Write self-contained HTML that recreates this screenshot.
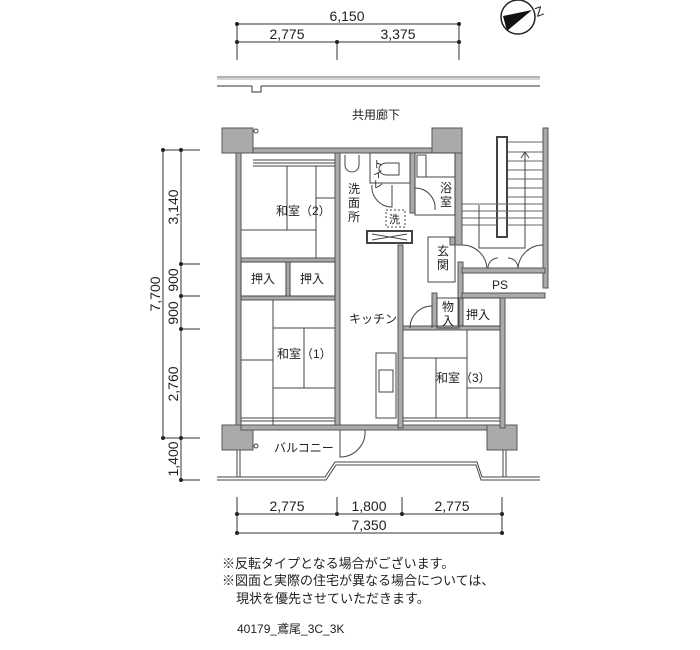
<!DOCTYPE html>
<html><head><meta charset="utf-8"><style>
html,body{margin:0;padding:0;background:#fff;}
svg{display:block;}
text{font-family:"Liberation Sans","Noto Sans CJK JP",sans-serif;fill:#222;}
</style></head><body>
<svg width="700" height="650" viewBox="0 0 700 650" xmlns="http://www.w3.org/2000/svg">
<g stroke="#333" stroke-width="1" fill="none">
<line x1="237" y1="24" x2="459" y2="24"/><line x1="237" y1="42" x2="459" y2="42"/>
<line x1="237" y1="24" x2="237" y2="60"/><line x1="337" y1="42" x2="337" y2="60"/><line x1="459" y1="24" x2="459" y2="60"/>
<line x1="217" y1="77" x2="540" y2="77" stroke="#666"/><line x1="217" y1="79" x2="540" y2="79" stroke="#aaa"/>
<line x1="217" y1="86" x2="252" y2="86"/><line x1="261" y1="86" x2="540" y2="86"/>
<path d="M252 86 V92 H261 V86"/>
<line x1="163" y1="150" x2="163" y2="438"/><line x1="181" y1="150" x2="181" y2="480"/>
<line x1="163" y1="150" x2="200" y2="150"/><line x1="181" y1="264" x2="200" y2="264"/><line x1="181" y1="296" x2="200" y2="296"/><line x1="181" y1="329" x2="200" y2="329"/><line x1="163" y1="438" x2="200" y2="438"/><line x1="181" y1="480" x2="200" y2="480"/>
<line x1="237" y1="514" x2="502" y2="514"/><line x1="237" y1="533" x2="502" y2="533"/>
<line x1="237" y1="497" x2="237" y2="533"/><line x1="337" y1="497" x2="337" y2="514"/><line x1="402" y1="497" x2="402" y2="514"/><line x1="502" y1="497" x2="502" y2="533"/>
</g>
<g fill="#222">
<circle cx="237" cy="24" r="2"/><circle cx="459" cy="24" r="2"/><circle cx="237" cy="42" r="2"/><circle cx="337" cy="42" r="2"/><circle cx="459" cy="42" r="2"/>
<circle cx="163" cy="150" r="2"/><circle cx="181" cy="150" r="2"/><circle cx="181" cy="264" r="2"/><circle cx="181" cy="296" r="2"/><circle cx="181" cy="329" r="2"/><circle cx="163" cy="438" r="2"/><circle cx="181" cy="438" r="2"/><circle cx="181" cy="480" r="2"/>
<circle cx="237" cy="514" r="2"/><circle cx="337" cy="514" r="2"/><circle cx="402" cy="514" r="2"/><circle cx="502" cy="514" r="2"/><circle cx="237" cy="533" r="2"/><circle cx="502" cy="533" r="2"/>
</g>
<g font-size="14" text-anchor="middle">
<text x="347" y="21">6,150</text><text x="287" y="39">2,775</text><text x="398" y="39">3,375</text>
<text x="287" y="511">2,775</text><text x="369" y="511">1,800</text><text x="452" y="511">2,775</text><text x="369" y="530">7,350</text>
<text transform="translate(178,207) rotate(-90)">3,140</text>
<text transform="translate(178,280) rotate(-90)">900</text>
<text transform="translate(178,313) rotate(-90)">900</text>
<text transform="translate(178,384) rotate(-90)">2,760</text>
<text transform="translate(178,459) rotate(-90)">1,400</text>
<text transform="translate(160,294) rotate(-90)">7,700</text>
</g>
<circle cx="518" cy="17" r="17" fill="#fff" stroke="#222" stroke-width="1.5"/>
<path d="M532 10 L503 16 L507 31 Z" fill="#111"/>
<text transform="translate(537,17) rotate(-20)" font-size="13">Z</text>
<g fill="#aaa" stroke="#555" stroke-width="1">
<rect x="222" y="128" width="31" height="25"/>
<rect x="236" y="153" width="5" height="277"/>
<rect x="253" y="148" width="179" height="5"/>
<rect x="432" y="128" width="30" height="25"/>
<path d="M455 153 H462 V245 H450 V237 H455 Z"/>
<rect x="335" y="153" width="5" height="277"/>
<rect x="222" y="425" width="31" height="25"/>
<rect x="487" y="425" width="30" height="25"/>
<rect x="241" y="425" width="246" height="5"/>
<rect x="543" y="128" width="5" height="160"/>
<rect x="500" y="293" width="5" height="135"/>
<rect x="458" y="262" width="5" height="68"/>
<rect x="398" y="245" width="5" height="183"/>
<rect x="410" y="153" width="5" height="60"/>
<rect x="462" y="268" width="83" height="5"/>
<rect x="462" y="293" width="83" height="5"/>
<rect x="432" y="293" width="5" height="35"/>
<rect x="403" y="326" width="97" height="4"/>
<rect x="241" y="258" width="94" height="4"/>
<rect x="241" y="296" width="94" height="4"/>
<rect x="286" y="262" width="4" height="34"/>
</g>
<g stroke="#444" stroke-width="1" fill="none">
<line x1="253" y1="160" x2="335" y2="160"/><line x1="253" y1="163" x2="335" y2="163"/><line x1="253" y1="166" x2="335" y2="166"/>
<line x1="287" y1="166" x2="287" y2="230"/><line x1="316" y1="166" x2="316" y2="258"/><line x1="241" y1="230" x2="316" y2="230"/><line x1="316" y1="198" x2="335" y2="198"/>
<rect x="241" y="262" width="45" height="34"/><rect x="290" y="262" width="45" height="34"/>
<line x1="273" y1="300" x2="273" y2="425"/><line x1="273" y1="328" x2="335" y2="328"/><line x1="273" y1="388" x2="335" y2="388"/><line x1="304" y1="328" x2="304" y2="388"/><line x1="241" y1="360" x2="273" y2="360"/>
<line x1="241" y1="418" x2="335" y2="418"/><line x1="241" y1="421" x2="335" y2="421"/>
<line x1="403" y1="358" x2="467" y2="358"/><line x1="467" y1="330" x2="467" y2="418"/><line x1="436" y1="358" x2="436" y2="418"/><line x1="467" y1="388" x2="500" y2="388"/>
<line x1="403" y1="418" x2="500" y2="418"/><line x1="403" y1="421" x2="500" y2="421"/>
<rect x="370" y="153" width="40" height="30"/>
<rect x="415" y="153" width="40" height="62"/><rect x="417" y="155" width="9" height="22"/><line x1="426" y1="177" x2="455" y2="177"/>
<path d="M387 163 a8 6 0 1 0 0 12 h12 v-12 z"/>
<path d="M345 155 v10 a7 7 0 0 0 14 0 v-10"/>
<path d="M372 185 a20 20 0 0 0 20 22 v-22"/>
<path d="M415 188 a20 20 0 0 1 20 22"/>
<rect x="386" y="210" width="19" height="17" stroke-dasharray="2,2"/>
<rect x="367" y="231" width="45" height="12" stroke-width="2"/><path d="M372 234 L407 240 M372 240 L407 234"/>
<rect x="376" y="353" width="20" height="65"/><rect x="379" y="370" width="14" height="22"/>
<rect x="428" y="237" width="27" height="45"/>
<rect x="437" y="298" width="22" height="30"/><rect x="459" y="298" width="41" height="28"/>
<path d="M410 328 a22 22 0 0 1 22 -22 v22"/>
<rect x="497" y="137" width="10" height="100" stroke-width="2"/>
<g stroke="#666">
<line x1="508" y1="142" x2="543" y2="142"/><line x1="508" y1="152" x2="543" y2="152"/><line x1="508" y1="161" x2="543" y2="161"/><line x1="508" y1="170" x2="543" y2="170"/><line x1="508" y1="179" x2="543" y2="179"/><line x1="508" y1="188" x2="543" y2="188"/><line x1="508" y1="197" x2="543" y2="197"/>
<line x1="462" y1="204" x2="543" y2="204"/><line x1="462" y1="211" x2="543" y2="211"/><line x1="462" y1="218" x2="543" y2="218"/><line x1="462" y1="225" x2="497" y2="225"/><line x1="507" y1="225" x2="543" y2="225"/>
</g>
<path d="M479 205 V248 H525 V152 M521 158 L525 152 L529 158"/>
<path d="M462 245 a25 25 0 0 1 25 23 M543 245 a25 25 0 0 0 -25 23 M488 268 a10 10 0 0 1 10 -10 M518 268 a10 10 0 0 0 -10 -10"/>
<path d="M217 477 H325 L335 462 H477 L482 477 H540"/>
<path d="M217 480 H326 L336 465 H476 L481 480 H540"/>
<line x1="237" y1="450" x2="237" y2="477"/><line x1="240" y1="450" x2="240" y2="477"/><line x1="503" y1="450" x2="503" y2="477"/><line x1="506" y1="450" x2="506" y2="477"/>
<path d="M340 430 v27 a25 25 0 0 0 25 -27"/>
<circle cx="256" cy="131" r="2"/><circle cx="256" cy="446" r="2"/>
</g>
<g font-size="12">
<text x="352" y="119">共用廊下</text>
<text x="276" y="215">和室（2）</text>
<text x="251" y="283">押入</text><text x="300" y="283">押入</text>
<text x="277" y="358">和室（1）</text>
<text x="349" y="323">キッチン</text>
<text x="436" y="382">和室（3）</text>
<text x="274" y="452">バルコニー</text>
<text x="492" y="289">PS</text>
<text x="466" y="319">押入</text>
<text x="389" y="223" font-size="11">洗</text>
</g>
<g font-size="12" text-anchor="middle">
<text x="354" y="193">洗</text><text x="354" y="207">面</text><text x="354" y="221">所</text>
<text x="446" y="192">浴</text><text x="446" y="206">室</text>
<text x="443" y="255">玄</text><text x="443" y="269">関</text>
<text x="448" y="311">物</text><text x="448" y="325">入</text>
<text x="378" y="168" font-size="10">ト</text><text x="378" y="178" font-size="10">イ</text><text x="378" y="188" font-size="10">レ</text>
</g>
<g font-size="13">
<text x="222" y="568">※反転タイプとなる場合がございます。</text>
<text x="222" y="585">※図面と実際の住宅が異なる場合については、</text>
<text x="236" y="603">現状を優先させていただきます。</text>
<text x="237" y="633" font-size="12">40179_鳶尾_3C_3K</text>
</g>
</svg>
</body></html>
